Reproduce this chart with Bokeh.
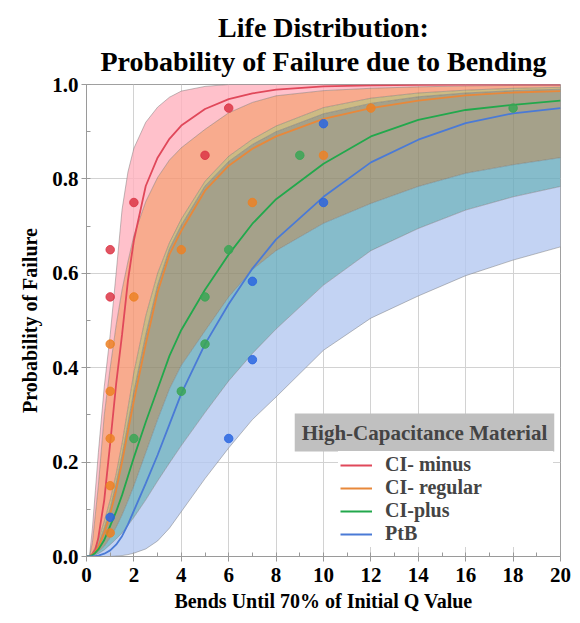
from bokeh.plotting import figure
from bokeh.models import (Range1d, SingleIntervalTicker, NumeralTickFormatter,
                          Legend, LegendItem, Label, Title)
from bokeh.embed import file_html
from bokeh.resources import INLINE

# ---------------- data ----------------
bends_grid = [0, 0.125, 0.25, 0.375, 0.5, 0.75, 1, 1.25, 1.5, 1.75, 2, 2.5, 3,
              3.5, 4, 5, 6, 7, 8, 10, 12, 14, 16, 18, 20]

# fitted failure-probability curves
minus_cdf = [0, 0, 0.005, 0.015, 0.04, 0.12, 0.24, 0.365, 0.47, 0.585, 0.67, 0.785, 0.845,
             0.885, 0.913, 0.948, 0.969, 0.981, 0.989, 0.996, 0.998, 0.999, 1.0, 1.0, 1.0]
regular_cdf = [0, 0, 0.004, 0.01, 0.02, 0.05, 0.09, 0.14, 0.2, 0.265, 0.33, 0.45, 0.56,
               0.64, 0.69, 0.775, 0.828, 0.864, 0.89, 0.927, 0.95, 0.966, 0.977, 0.983, 0.986]
plus_cdf = [0, 0, 0.003, 0.008, 0.015, 0.035, 0.065, 0.095, 0.13, 0.17, 0.21, 0.285, 0.355,
            0.425, 0.48, 0.565, 0.64, 0.705, 0.757, 0.832, 0.89, 0.925, 0.946, 0.957, 0.966]
ptb_cdf = [0, 0, 0, 0.001, 0.002, 0.006, 0.013, 0.025, 0.043, 0.068, 0.097, 0.155, 0.215,
           0.28, 0.345, 0.45, 0.535, 0.61, 0.672, 0.762, 0.835, 0.883, 0.918, 0.939, 0.95]

# confidence band edges
minus_upper = [0, 0, 0.06, 0.14, 0.22, 0.36, 0.47, 0.6, 0.735, 0.815, 0.865, 0.92, 0.952,
               0.973, 0.986, 0.996, 1.0, 1.0, 1.0, 1.0, 1.0, 1.0, 1.0, 1.0, 1.0]
minus_lower = [0, 0, 0.03, 0.09, 0.15, 0.30, 0.40, 0.49, 0.565, 0.625, 0.68, 0.752, 0.803,
               0.84, 0.866, 0.905, 0.94, 0.962, 0.976, 0.987, 0.992, 0.995, 0.997, 0.998, 0.998]
regular_upper = minus_lower
plus_upper = [0, 0, 0.008, 0.02, 0.035, 0.075, 0.12, 0.175, 0.24, 0.315, 0.39, 0.51, 0.6,
              0.665, 0.715, 0.795, 0.848, 0.884, 0.912, 0.951, 0.971, 0.982, 0.988, 0.992, 0.994]
ptb_upper = [0, 0, 0.006, 0.014, 0.026, 0.06, 0.102, 0.155, 0.215, 0.282, 0.35, 0.47, 0.575,
             0.652, 0.702, 0.785, 0.837, 0.873, 0.9, 0.938, 0.96, 0.974, 0.982, 0.987, 0.99]
regular_lower = [0, 0, 0.002, 0.005, 0.01, 0.022, 0.04, 0.062, 0.088, 0.118, 0.15, 0.22, 0.29,
                 0.355, 0.405, 0.478, 0.55, 0.608, 0.648, 0.706, 0.748, 0.784, 0.812, 0.83, 0.845]
plus_lower = [0, 0, 0.001, 0.003, 0.006, 0.014, 0.025, 0.037, 0.05, 0.066, 0.083, 0.12, 0.16,
              0.198, 0.235, 0.305, 0.372, 0.43, 0.482, 0.575, 0.648, 0.695, 0.734, 0.762, 0.784]
ptb_lower = [0, 0, 0, 0, 0, 0, 0, 0.001, 0.002, 0.004, 0.007, 0.016, 0.033,
             0.06, 0.095, 0.165, 0.23, 0.29, 0.338, 0.437, 0.505, 0.552, 0.595, 0.628, 0.656]

# observed failures (bends, plotting position)
minus_x = [1, 1, 2, 5, 6]
minus_y = [0.55, 0.65, 0.75, 0.85, 0.95]
regular_x = [1, 1, 1, 1, 1, 2, 4, 7, 10, 12]
regular_y = [0.05, 0.15, 0.25, 0.35, 0.45, 0.55, 0.65, 0.75, 0.85, 0.95]
plus_x = [2, 4, 5, 5, 6, 9, 18]
plus_y = [0.25, 0.35, 0.45, 0.55, 0.65, 0.85, 0.95]
ptb_x = [1, 6, 7, 7, 10, 10]
ptb_y = [0.083, 0.25, 0.417, 0.583, 0.75, 0.917]

series_names = ["CI- minus", "CI- regular", "CI-plus", "PtB"]
legend_title = "High-Capacitance Material"
title_lines = ["Life Distribution:", "Probability of Failure due to Bending"]
x_ticks_step = 2
y_ticks_step = 0.2

# ---------------- figure ----------------
SERIF = "Liberation Serif"
p = figure(width=572, height=620, output_backend="svg", toolbar_location=None,
           x_range=Range1d(0, 20), y_range=Range1d(0, 1.0),
           min_border_left=86, min_border_right=12, min_border_top=84,
           min_border_bottom=64)

# two centred title lines (the later one is placed further up)
p.add_layout(Title(text=title_lines[1], align="center", text_font=SERIF,
                   text_font_size="28px", text_font_style="bold",
                   text_color="black", standoff=16), "above")
p.add_layout(Title(text=title_lines[0], align="center", text_font=SERIF,
                   text_font_size="28px", text_font_style="bold",
                   text_color="black", standoff=-14), "above")

p.outline_line_color = "#a0a0a0"
p.background_fill_color = "white"
p.grid.grid_line_color = "#d2d2d2"
p.grid.grid_line_width = 1

p.xaxis.ticker = SingleIntervalTicker(interval=x_ticks_step, num_minor_ticks=2)
p.yaxis.ticker = SingleIntervalTicker(interval=y_ticks_step, num_minor_ticks=2)
p.xgrid.ticker = SingleIntervalTicker(interval=x_ticks_step)
p.ygrid.ticker = SingleIntervalTicker(interval=y_ticks_step)
p.yaxis.formatter = NumeralTickFormatter(format="0.0")
p.xaxis.axis_label = "Bends Until 70% of Initial Q Value"
p.yaxis.axis_label = "Probability of Failure"
for ax in (p.xaxis, p.yaxis):
    ax.axis_line_color = "#9a9a9a"
    ax.major_tick_line_color = "#9a9a9a"
    ax.minor_tick_line_color = "#9a9a9a"
    ax.major_tick_in = 0
    ax.major_tick_out = 5
    ax.minor_tick_in = 4
    ax.minor_tick_out = 0
    ax.major_label_text_font = SERIF
    ax.major_label_text_font_style = "bold"
    ax.major_label_text_font_size = "21px"
    ax.major_label_text_color = "black"
    ax.axis_label_text_font = SERIF
    ax.axis_label_text_font_style = "bold"
    ax.axis_label_text_font_size = "20px"
    ax.axis_label_text_color = "black"
p.xaxis.major_label_standoff = 6
p.xaxis.axis_label_standoff = 5
p.yaxis.major_label_standoff = 3
p.yaxis.axis_label_standoff = 8

# ---------------- overlapping bands (drawn as regions between edges) ----------------
regions = [
    (minus_upper, minus_lower, "#ffb2be"),     # red band only
    (regular_upper, plus_upper, "#f69672"),    # orange band
    (plus_upper, ptb_upper, "#c0aa65"),        # orange + green
    (ptb_upper, regular_lower, "#8e896d"),     # orange + green + blue
    (regular_lower, plus_lower, "#68abbe"),    # green + blue
    (plus_lower, ptb_lower, "#b4c8f0"),        # blue band only
]
for upper, lower, col in regions:
    p.varea(x=bends_grid, y1=lower, y2=upper, fill_color=col, fill_alpha=0.8)

for edge in (minus_upper, minus_lower, plus_upper, ptb_upper, regular_lower,
             plus_lower, ptb_lower):
    p.line(bends_grid, edge, line_color="#707070", line_alpha=0.45, line_width=1)

# ---------------- fitted lines and points ----------------
colors = ["#e0485a", "#e8883a", "#22a84c", "#4a7ad6"]
point_colors = ["#dc3545", "#ec8124", "#3aa655", "#2a66e0"]
cdfs = [minus_cdf, regular_cdf, plus_cdf, ptb_cdf]
pts = [(minus_x, minus_y), (regular_x, regular_y), (plus_x, plus_y), (ptb_x, ptb_y)]

line_renderers = []
for cdf, col in zip(cdfs, colors):
    line_renderers.append(p.line(bends_grid, cdf, line_color=col, line_width=1.8))
for (xs, ys), col in zip(pts, point_colors):
    p.scatter(xs, ys, size=8.5, fill_color=col, line_color=col, alpha=0.85)

# ---------------- legend ----------------
legend = Legend(items=[LegendItem(label=n, renderers=[r])
                       for n, r in zip(series_names, line_renderers)],
                location=(252, 9), orientation="vertical")
legend.background_fill_color = "white"
legend.background_fill_alpha = 1
legend.border_line_alpha = 0
legend.padding = 2
legend.spacing = 0
legend.margin = 0
legend.glyph_width = 32
legend.glyph_height = 20
legend.label_height = 20
legend.label_width = 166
legend.label_standoff = 13
legend.label_text_font = SERIF
legend.label_text_font_style = "bold"
legend.label_text_font_size = "20px"
p.add_layout(legend, "center")

title_box = Label(x=338, y=124, x_units="screen", y_units="screen",
                  text=legend_title, text_align="center", text_baseline="middle",
                  text_font=SERIF, text_font_style="bold", text_font_size="21px",
                  background_fill_color="#c0c0c0", background_fill_alpha=1,
                  padding=7)
p.add_layout(title_box)

open("out.html", "w").write(file_html(p, INLINE))
